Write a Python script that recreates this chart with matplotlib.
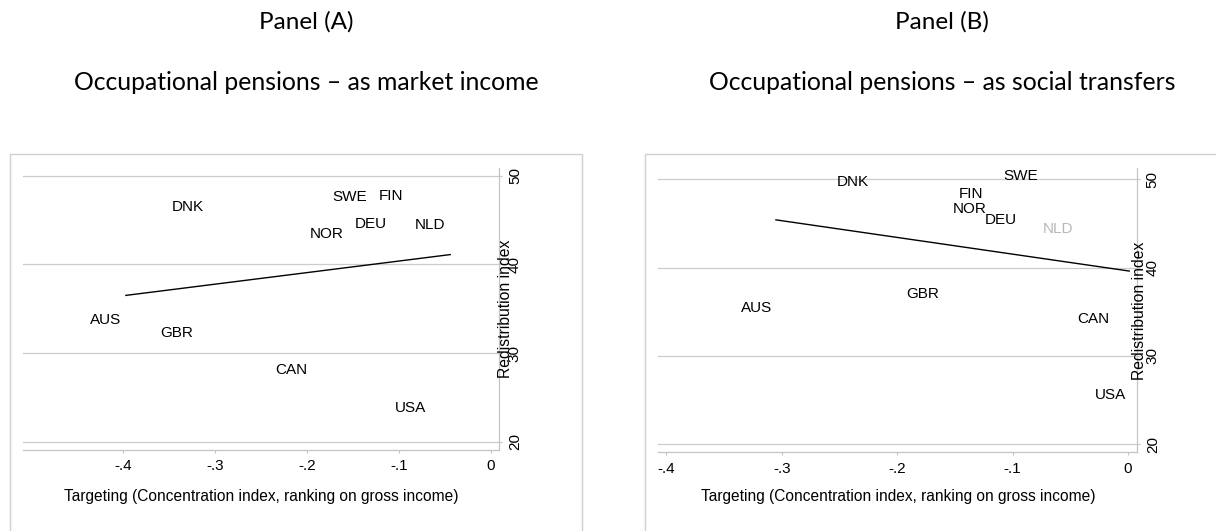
import matplotlib.pyplot as plt
from matplotlib.patches import Rectangle

# === Data ===
countries = ['AUS', 'CAN', 'DEU', 'DNK', 'FIN', 'GBR', 'NLD', 'NOR', 'SWE', 'USA']

# Panel A: occupational pensions treated as market income
market_x = [-0.398, -0.195, -0.108, -0.308, -0.091, -0.319, -0.045, -0.155, -0.130, -0.066]
market_y = [33.7, 28.1, 44.6, 46.5, 47.75, 32.3, 44.4, 43.4, 47.6, 23.8]
market_fit_x = [-0.397, -0.044]
market_fit_y = [36.5, 41.1]

# Panel B: occupational pensions treated as social transfers
transfer_x = [-0.305, -0.013, -0.093, -0.221, -0.122, -0.160, -0.044, -0.119, -0.074, 0.002]
transfer_y = [35.4, 34.2, 45.4, 49.7, 48.3, 37.0, 44.4, 46.6, 50.4, 25.5]
transfer_fit_x = [-0.305, 0.001]
transfer_fit_y = [45.4, 39.6]

x_ticks = [-0.4, -0.3, -0.2, -0.1, 0.0]
x_ticklabels = ['-.4', '-.3', '-.2', '-.1', '0']
y_ticks = [20, 30, 40, 50]

panel_titles = ['Panel (A)', 'Panel (B)']
panel_subtitles = ['Occupational pensions \u2013 as market income',
                   'Occupational pensions \u2013 as social transfers']
grey_countries = [[], ['NLD']]

# === Layout (pixels) ===
W, H = 1216, 531
fig = plt.figure(figsize=(W / 100, H / 100), dpi=100)


def box(l, t, r, b):
    return [l / W, 1 - b / H, (r - l) / W, (b - t) / H]


AXIS_GREY = '#c4c4c4'
GRID_GREY = '#cccccc'
FRAME_GREY = '#d0d0d0'
STATA_FONT = 'Liberation Sans'

panels = [
    dict(x=market_x, y=market_y, fx=market_fit_x, fy=market_fit_y,
         rect=(23, 168.5, 499.4, 449.5), xlim=(-0.509, 0.0096), ylim=(19.12, 50.81),
         frame=(9.6, 154, 581.6, 560), title_x=306, ylab_x=1.0122),
    dict(x=transfer_x, y=transfer_y, fx=transfer_fit_x, fy=transfer_fit_y,
         rect=(658.4, 168.5, 1137.3, 452.3), xlim=(-0.4068, 0.008), ylim=(19.06, 51.22),
         frame=(644.8, 154, 1240, 560), title_x=942, ylab_x=1.005),
]

for i, p in enumerate(panels):
    # outer graph region frame
    l, t, r, b = p['frame']
    fig.add_artist(Rectangle((l / W, 1 - b / H), (r - l) / W, (b - t) / H,
                             transform=fig.transFigure, fill=False,
                             edgecolor=FRAME_GREY, lw=1.0, clip_on=False))

    ax = fig.add_axes(box(*p['rect']))
    ax.set_xlim(*p['xlim'])
    ax.set_ylim(*p['ylim'])
    ax.patch.set_alpha(0)

    for side in ['left', 'top']:
        ax.spines[side].set_visible(False)
    for side in ['right', 'bottom']:
        ax.spines[side].set_color(AXIS_GREY)
        ax.spines[side].set_linewidth(0.9)

    ax.yaxis.tick_right()
    ax.set_xticks(x_ticks)
    ax.set_xticklabels(x_ticklabels, fontsize=11, family=STATA_FONT)
    ax.set_yticks(y_ticks)
    ax.set_yticklabels([str(v) for v in y_ticks], fontsize=11, family=STATA_FONT,
                       rotation=90, va='center')
    ax.tick_params(axis='x', length=2.5, width=0.8, color=AXIS_GREY, pad=4.4)
    ax.tick_params(axis='y', length=2.5, width=0.8, color=AXIS_GREY, pad=3.6)
    ax.grid(axis='y', color=GRID_GREY, lw=0.9)
    ax.set_axisbelow(True)

    # linear fit
    ax.plot(p['fx'], p['fy'], color='black', lw=1.0, zorder=3)

    # country labels (marker labels to the left of invisible points)
    for name, xv, yv in zip(countries, p['x'], p['y']):
        col = '#b8b8b8' if name in grey_countries[i] else 'black'
        ax.annotate(name, (xv, yv), xytext=(-3, 0), textcoords='offset points',
                    ha='right', va='center', fontsize=11, family=STATA_FONT,
                    color=col, zorder=4)

    ax.text(p['ylab_x'], 0.5, 'Redistribution index', transform=ax.transAxes,
            rotation=90, ha='center', va='center', fontsize=11.3,
            family=STATA_FONT, zorder=5)

    cx = (p['rect'][0] + p['rect'][2]) / 2
    fig.text(cx / W, 1 - 500.5 / H,
             'Targeting (Concentration index, ranking on gross income)',
             ha='center', va='baseline', fontsize=11.2, family=STATA_FONT)

    # titles above each panel
    fig.text(p['title_x'] / W, 1 - 28.5 / H, panel_titles[i],
             ha='center', va='baseline', fontsize=17.5, family='Lato')
    fig.text(p['title_x'] / W, 1 - 90 / H, panel_subtitles[i],
             ha='center', va='baseline', fontsize=17.8, family='Lato')

fig.savefig('out.png', dpi=100)
